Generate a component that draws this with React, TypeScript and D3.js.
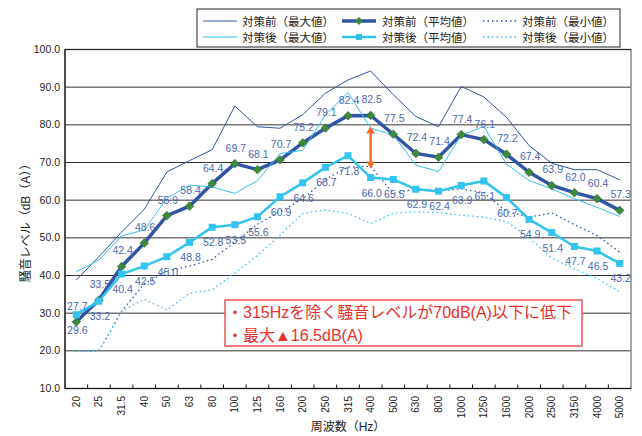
import React, { useEffect, useRef } from 'react';
import * as d3 from 'd3';

// 1/3オクターブ中心周波数
const freqs = ['20', '25', '31.5', '40', '50', '63', '80', '100', '125', '160', '200', '250', '315',
  '400', '500', '630', '800', '1000', '1250', '1600', '2000', '2500', '3150', '4000', '5000'];

const beforeMax = [38.8, 45.0, 51.5, 57.6, 67.5, 70.5, 73.4, 85.0, 79.5, 79.1, 82.7, 88.4, 91.9,
  94.3, 88.0, 82.2, 79.5, 90.2, 87.4, 82.0, 74.5, 69.8, 68.1, 68.1, 65.4];
const beforeAvg = [27.7, 33.5, 42.4, 48.6, 55.9, 58.4, 64.4, 69.7, 68.1, 70.7, 75.2, 79.1, 82.4,
  82.5, 77.5, 72.4, 71.4, 77.4, 76.1, 72.2, 67.4, 63.9, 62.0, 60.4, 57.3];
const beforeMin = [20.0, 20.0, 30.5, 37.8, 41.2, 42.5, 44.3, 48.8, 53.6, 57.0, 60.3, 65.5, 68.8,
  69.0, 61.8, 63.0, 62.5, 63.0, 62.0, 57.0, 55.5, 56.6, 53.5, 50.6, 46.2];
const afterMax = [41.0, 44.1, 50.5, 52.1, 60.5, 64.0, 63.5, 61.8, 65.2, 72.4, 73.2, 82.6, 88.6,
  79.1, 77.3, 69.3, 67.6, 77.2, 79.6, 69.6, 65.2, 63.0, 60.4, 58.1, 55.7];
const afterAvg = [29.6, 33.2, 40.4, 42.5, 45.0, 48.8, 52.8, 53.5, 55.6, 60.9, 64.6, 68.7, 71.8,
  66.0, 65.5, 62.9, 62.4, 63.9, 65.1, 60.7, 54.9, 51.4, 47.7, 46.5, 43.2];
const afterMin = [20.0, 20.0, 30.5, 33.7, 30.8, 35.3, 36.2, 40.6, 45.3, 50.7, 56.5, 57.4, 56.5,
  53.8, 56.5, 56.9, 56.7, 56.0, 55.5, 54.3, 50.0, 44.6, 41.8, 39.2, 35.7];

const yTicks = [10, 20, 30, 40, 50, 60, 70, 80, 90, 100];

const legendNames = ['対策前（最大値）', '対策前（平均値）', '対策前（最小値）',
  '対策後（最大値）', '対策後（平均値）', '対策後（最小値）'];

const noteLines = ['・315Hzを除く騒音レベルが70dB(A)以下に低下', '・最大▲16.5dB(A)'];

const DARK = '#2f55a4';
const LIGHT = '#33c3f0';
const GREEN = '#3d8a3d';
const LABEL = '#4a68b0';
const FONT = '"Liberation Sans", Arial, "Noto Sans CJK JP", sans-serif';

const App = () => {
  const ref = useRef<SVGSVGElement>(null);

  useEffect(() => {
    const svg = d3.select(ref.current);
    svg.selectAll('*').remove();

    const left = 65, right = 631, top = 49.5, bottom = 388.5;
    const x = d3.scaleBand().domain(freqs).range([left, right]);
    const cx = (f: string) => (x(f) as number) + x.bandwidth() / 2;
    const y = d3.scaleLinear().domain([10, 100]).range([bottom, top]);

    svg.append('rect').attr('width', 642).attr('height', 436).attr('fill', '#fff');

    // grid
    svg.selectAll('.grid')
      .data(yTicks.filter(t => t > 10 && t < 100))
      .enter().append('line')
      .attr('x1', left).attr('x2', right)
      .attr('y1', d => y(d)).attr('y2', d => y(d))
      .attr('stroke', '#333').attr('stroke-width', 1);

    // frame
    svg.append('rect')
      .attr('x', left).attr('y', top).attr('width', right - left).attr('height', bottom - top)
      .attr('fill', 'none').attr('stroke', '#888').attr('stroke-width', 1.5);
    svg.append('line').attr('x1', left).attr('x2', right).attr('y1', top).attr('y2', top)
      .attr('stroke', '#222');
    svg.append('line').attr('x1', left).attr('x2', left).attr('y1', top).attr('y2', bottom)
      .attr('stroke', '#111').attr('stroke-width', 1.2);
    svg.append('line').attr('x1', left).attr('x2', right).attr('y1', bottom).attr('y2', bottom)
      .attr('stroke', '#111').attr('stroke-width', 1.2);

    // x ticks (between categories)
    svg.selectAll('.xtick')
      .data(freqs.slice(1))
      .enter().append('line')
      .attr('x1', d => x(d) as number).attr('x2', d => x(d) as number)
      .attr('y1', bottom).attr('y2', bottom - 4)
      .attr('stroke', '#111');

    // y labels
    svg.selectAll('.ylab')
      .data(yTicks)
      .enter().append('text')
      .attr('x', 60).attr('y', d => y(d) + 3.5)
      .attr('text-anchor', 'end')
      .attr('font-family', FONT).attr('font-size', 10.5).attr('fill', '#222')
      .text(d => d.toFixed(1));

    // x labels
    svg.selectAll('.xlab')
      .data(freqs)
      .enter().append('text')
      .attr('transform', d => `translate(${cx(d) + 3.5}, 396) rotate(-90)`)
      .attr('text-anchor', 'end')
      .attr('font-family', FONT).attr('font-size', 10).attr('fill', '#222')
      .text(d => d);

    // axis titles
    svg.append('text')
      .attr('x', 348).attr('y', 431)
      .attr('text-anchor', 'middle')
      .attr('font-family', FONT).attr('font-size', 12).attr('fill', '#222')
      .text('周波数（Hz）');
    svg.append('text')
      .attr('transform', 'translate(30, 220) rotate(-90)')
      .attr('text-anchor', 'middle')
      .attr('font-family', FONT).attr('font-size', 12).attr('fill', '#222')
      .text('騒音レベル（dB（A））');

    const line = d3.line<number>()
      .x((_, i) => cx(freqs[i]))
      .y(d => y(d));

    const series = [
      { data: beforeMax, color: DARK, width: 1, dash: null },
      { data: beforeAvg, color: DARK, width: 3.5, dash: null },
      { data: beforeMin, color: DARK, width: 1.3, dash: '1.5,3' },
      { data: afterMax, color: LIGHT, width: 1, dash: null },
      { data: afterAvg, color: LIGHT, width: 2.5, dash: null },
      { data: afterMin, color: LIGHT, width: 1.3, dash: '1.5,3' },
    ];

    series.forEach(s => {
      svg.append('path')
        .attr('d', line(s.data))
        .attr('fill', 'none')
        .attr('stroke', s.color)
        .attr('stroke-width', s.width)
        .attr('stroke-dasharray', s.dash);
    });

    // markers
    svg.selectAll('.diamond')
      .data(beforeAvg)
      .enter().append('path')
      .attr('d', d3.symbol(d3.symbolDiamond2, 48)())
      .attr('transform', (d, i) => `translate(${cx(freqs[i])}, ${y(d)})`)
      .attr('fill', GREEN).attr('stroke', '#2c6a2c').attr('stroke-width', 0.6);

    svg.selectAll('.square')
      .data(afterAvg)
      .enter().append('rect')
      .attr('x', (d, i) => cx(freqs[i]) - 3.5).attr('y', d => y(d) - 3.5)
      .attr('width', 7).attr('height', 7)
      .attr('fill', LIGHT);

    // arrow at 400Hz
    const ax = cx('400');
    const ay1 = y(beforeAvg[13]) + 11;
    const ay2 = y(afterAvg[13]) - 9;
    svg.append('line')
      .attr('x1', ax).attr('x2', ax).attr('y1', ay1 + 5).attr('y2', ay2 - 5)
      .attr('stroke', '#f26b2a').attr('stroke-width', 2.5);
    svg.append('path')
      .attr('d', `M${ax - 4.5},${ay1 + 7}L${ax},${ay1}L${ax + 4.5},${ay1 + 7}Z`)
      .attr('fill', '#f26b2a');
    svg.append('path')
      .attr('d', `M${ax - 4.5},${ay2 - 7}L${ax},${ay2}L${ax + 4.5},${ay2 - 7}Z`)
      .attr('fill', '#f26b2a');

    // data labels
    svg.selectAll('.lblB')
      .data(beforeAvg)
      .enter().append('text')
      .attr('x', (d, i) => cx(freqs[i]) + 1).attr('y', d => y(d) - 12)
      .attr('text-anchor', 'middle')
      .attr('font-family', FONT).attr('font-size', 10.5).attr('fill', LABEL)
      .text(d => d.toFixed(1));
    svg.selectAll('.lblA')
      .data(afterAvg)
      .enter().append('text')
      .attr('x', (d, i) => cx(freqs[i]) + 1).attr('y', d => y(d) + 19)
      .attr('text-anchor', 'middle')
      .attr('font-family', FONT).attr('font-size', 10.5).attr('fill', LABEL)
      .text(d => d.toFixed(1));

    // note box
    svg.append('rect')
      .attr('x', 225).attr('y', 300).attr('width', 357).attr('height', 46)
      .attr('fill', '#fff').attr('stroke', '#f05555').attr('stroke-width', 1.5);
    svg.selectAll('.note')
      .data(noteLines)
      .enter().append('text')
      .attr('x', 227).attr('y', (d, i) => 318 + i * 23)
      .attr('font-family', FONT).attr('font-size', 16).attr('fill', '#e8302a')
      .text(d => d);

    // legend
    svg.append('rect')
      .attr('x', 197).attr('y', 9).attr('width', 423).attr('height', 38)
      .attr('fill', '#fff').attr('stroke', '#222').attr('stroke-width', 1);
    const colX = [203, 342, 483];
    const textX = [242, 382, 522];
    const rowY = [21, 37];
    const lg = svg.selectAll('.leg')
      .data(series)
      .enter().append('g')
      .attr('transform', (d, i) => `translate(0, ${rowY[Math.floor(i / 3)]})`);
    lg.append('line')
      .attr('x1', (d, i) => colX[i % 3]).attr('x2', (d, i) => colX[i % 3] + 34)
      .attr('y1', 0).attr('y2', 0)
      .attr('stroke', d => d.color).attr('stroke-width', d => d.width)
      .attr('stroke-dasharray', d => d.dash);
    lg.append('text')
      .attr('x', (d, i) => textX[i % 3]).attr('y', 4.5)
      .attr('font-family', FONT).attr('font-size', 11.5).attr('fill', '#222')
      .text((d, i) => legendNames[i]);
    svg.append('path')
      .attr('d', d3.symbol(d3.symbolDiamond2, 40)())
      .attr('transform', `translate(${colX[1] + 17}, ${rowY[0]})`)
      .attr('fill', GREEN);
    svg.append('rect')
      .attr('x', colX[1] + 14).attr('y', rowY[1] - 3).attr('width', 6).attr('height', 6)
      .attr('fill', LIGHT);
  }, []);

  return <svg ref={ref} width={642} height={436} style={{ position: 'absolute', left: 0, top: 0 }} />;
};

export default App;
